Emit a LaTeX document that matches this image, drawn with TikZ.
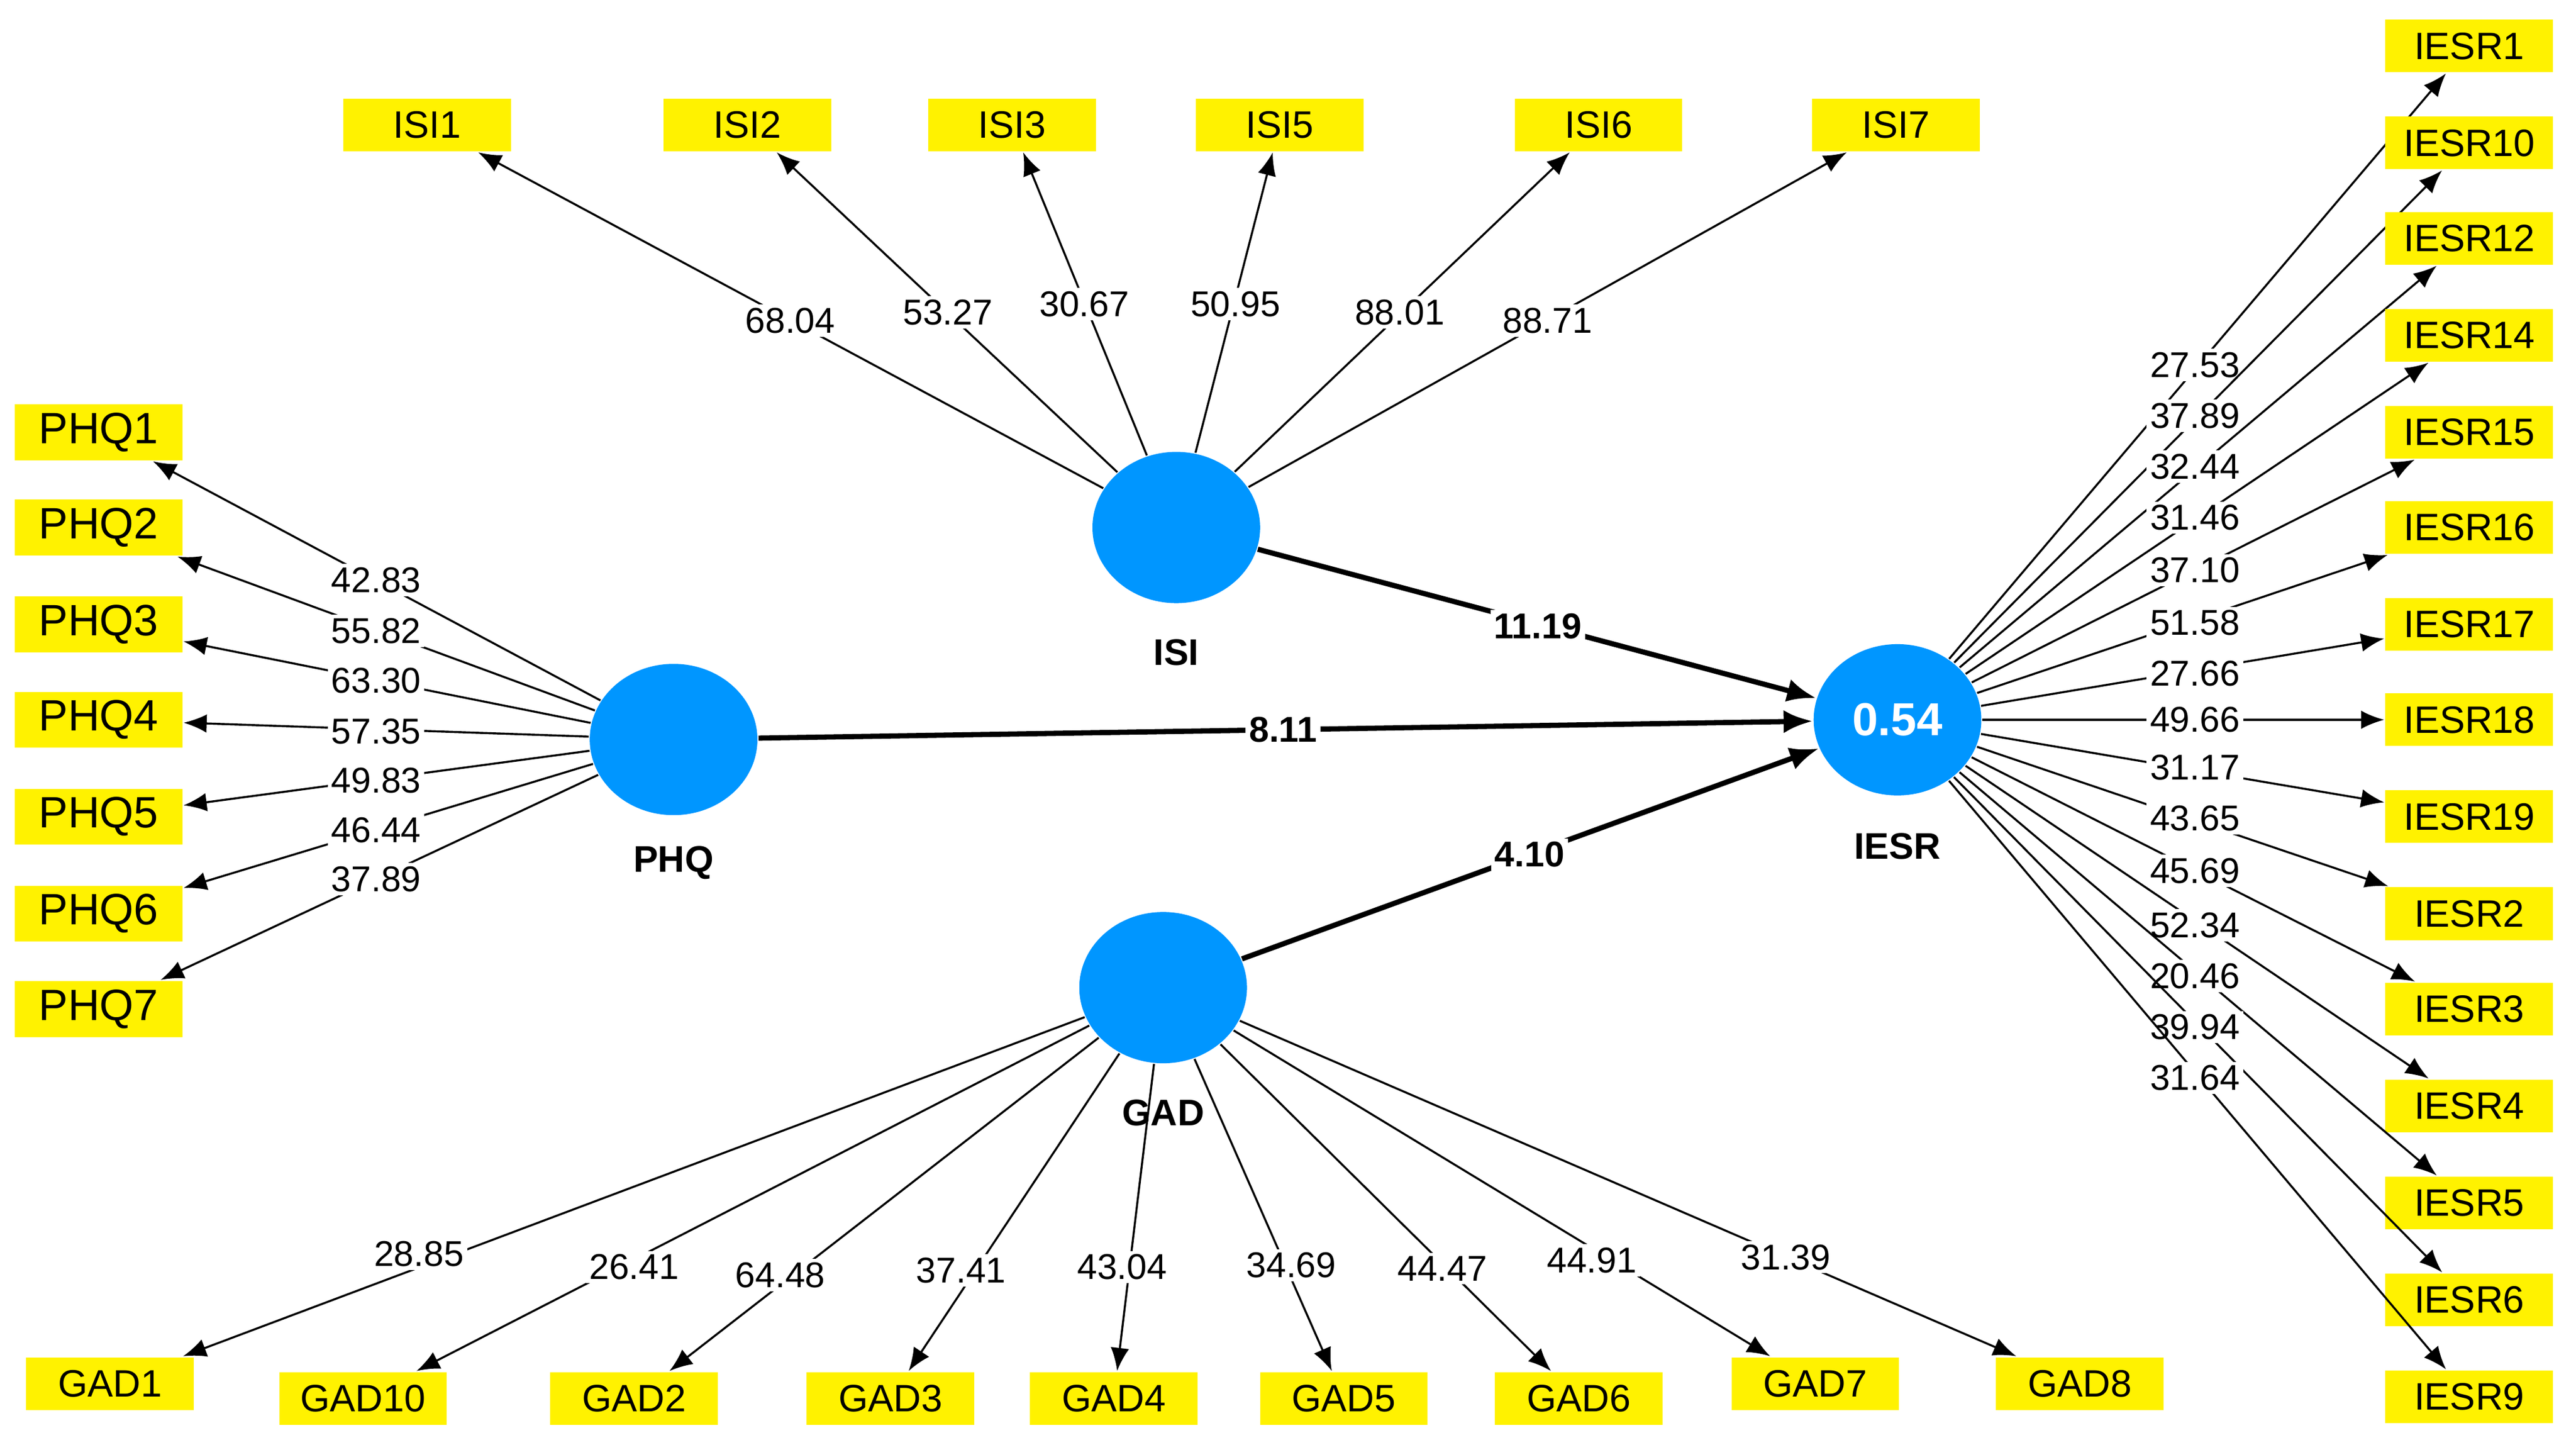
\documentclass[tikz,border=0pt]{standalone}
\usepackage{fontspec}
\setmainfont{Liberation Sans}
\usetikzlibrary{arrows.meta,shapes.geometric}
\begin{document}
\begin{tikzpicture}[x=0.01cm,y=-0.01cm,
  ind/.style={fill=yellow,minimum width=1.02cm,minimum height=0.32cm,inner sep=0pt,font=\fontsize{6.6}{7}\selectfont},
  phq/.style={ind,font=\fontsize{7.6}{8}\selectfont,minimum height=0.34cm},
  num/.style={fill=white,inner sep=0.6pt,font=\fontsize{6.2}{7}\selectfont},
  pnum/.style={fill=white,inner sep=0.6pt,font=\bfseries\fontsize{6.2}{7}\selectfont},
  lvl/.style={font=\bfseries\fontsize{6.4}{7}\selectfont},
  ld/.style={-{Latex[length=4pt,width=3.2pt]},line width=0.35pt},
  pd/.style={-{Latex[length=5pt,width=4pt]},line width=0.9pt}]
\useasboundingbox (0,0) rectangle (1568,879);
\definecolor{lvc}{RGB}{0,150,255}
\tikzset{lvs/.style={fill=lvc,draw=none,inner sep=0pt,ellipse,minimum width=1.02cm,minimum height=0.92cm}}
\node[lvs] (ISI) at (716,321) {};
\node[lvs] (PHQ) at (410,450) {};
\node[lvs] (GAD) at (708,601) {};
\node[lvs,text=white,font=\bfseries\fontsize{8}{9}\selectfont] (IESR) at (1155,438) {0.54};
\node[lvl] (tISI) at (716,397) {ISI};
\node[lvl] (tPHQ) at (410,525) {PHQ};
\node[lvl] (tGAD) at (708,677) {GAD};
\node[lvl] (tIESR) at (1155,515) {IESR};
% ISI indicators
\foreach \n/\x/\v/\lx/\ly in {1/260/68.04/481/195,2/455/53.27/577/190,3/616/30.67/660/185,5/779/50.95/752/185,6/973/88.01/852/190,7/1154/88.71/942/195}{
  \node[ind] (ISI\n) at (\x,76) {ISI\n};
  \draw[ld] (ISI) -- (ISI\n);
  \node[num] (lISI\n) at (\lx,\ly) {\v};
}
% PHQ indicators
\foreach \n/\y/\v/\ly in {1/263/42.83/353,2/321/55.82/384,3/380/63.30/414,4/438/57.35/445,5/497/49.83/475,6/556/46.44/505,7/614/37.89/535}{
  \node[phq] (PHQ\n) at (60,\y) {PHQ\n};
  \draw[ld] (PHQ) -- (PHQ\n);
  \node[num] (lPHQ\n) at (229,\ly) {\v};
}
% GAD indicators
\foreach \n/\x/\y/\v/\lx/\ly in {1/67/842/28.85/255/763,10/221/851/26.41/386/771,2/386/851/64.48/475/776,3/542/851/37.41/585/773,4/678/851/43.04/683/771,5/818/851/34.69/786/770,6/961/851/44.47/878/772,7/1105/842/44.91/969/767,8/1266/842/31.39/1087/765}{
  \node[ind] (GAD\n) at (\x,\y) {GAD\n};
  \draw[ld] (GAD) -- (GAD\n);
  \node[num] (lGAD\n) at (\lx,\ly) {\v};
}
% IESR indicators
\foreach \n/\y/\v/\ly in {1/28/27.53/222,10/87/37.89/253,12/145/32.44/284,14/204/31.46/315,15/263/37.10/347,16/321/51.58/379,17/380/27.66/410,18/438/49.66/438,19/497/31.17/467,2/556/43.65/498,3/614/45.69/530,4/673/52.34/563,5/732/20.46/594,6/791/39.94/625,9/850/31.64/656}{
  \node[ind] (IESR\n) at (1503,\y) {IESR\n};
  \draw[ld] (IESR) -- (IESR\n);
  \node[num] (lIESR\n) at (1336,\ly) {\v};
}
% structural paths
\draw[pd] (ISI) -- (IESR);
\draw[pd] (PHQ) -- (IESR);
\draw[pd] (GAD) -- (IESR);
\node[pnum] (p1) at (936,381) {11.19};
\node[pnum] (p2) at (781,444) {8.11};
\node[pnum] (p3) at (931,520) {4.10};
\end{tikzpicture}
\end{document}
